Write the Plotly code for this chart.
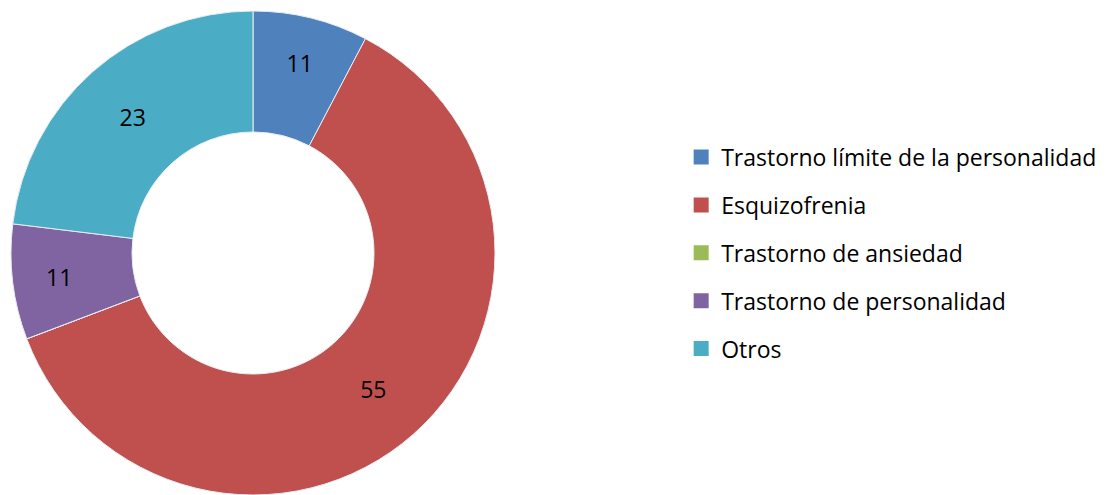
import plotly.graph_objects as go

labels = ['Trastorno límite de la personalidad', 'Esquizofrenia', 'Trastorno de ansiedad',
          'Trastorno de personalidad', 'Otros']
values = [1, 8, 0, 1, 3]
label_text = ['11', '55', '', '11', '23']
colors = ['#4F81BD', '#C0504D', '#9BBB59', '#8064A2', '#4BACC6']

fig = go.Figure()

# the page body adds an 8px offset, so the domain is shifted to compensate
fig.add_trace(go.Pie(
    labels=labels,
    values=values,
    text=label_text,
    hole=0.5,
    sort=False,
    direction='clockwise',
    rotation=0,
    marker=dict(colors=colors, line=dict(color='#E8EEF4', width=1)),
    textinfo='text',
    textposition='inside',
    insidetextorientation='horizontal',
    textfont=dict(color='black', size=23),
    showlegend=False,
    domain=dict(x=[3 / 1109, 487 / 1109], y=[8 / 495, 492 / 495]),
))

# legend entries as dummy square markers so the spacing can be controlled
for i, (lab, col) in enumerate(zip(labels, colors)):
    fig.add_trace(go.Scatter(
        x=[None], y=[None], mode='markers', name=lab,
        legendgroup=str(i),
        marker=dict(symbol='square', size=15, color=col),
    ))

fig.update_layout(
    width=1109, height=495,
    margin=dict(l=0, r=0, t=0, b=0),
    paper_bgcolor='white',
    plot_bgcolor='white',
    font=dict(family='Open Sans', size=23, color='black'),
    xaxis=dict(visible=False),
    yaxis=dict(visible=False),
    legend=dict(
        x=0.607, y=0.505, xanchor='left', yanchor='middle',
        tracegroupgap=15,
        itemwidth=30,
        font=dict(size=23),
    ),
)

fig.write_html("out.html")
